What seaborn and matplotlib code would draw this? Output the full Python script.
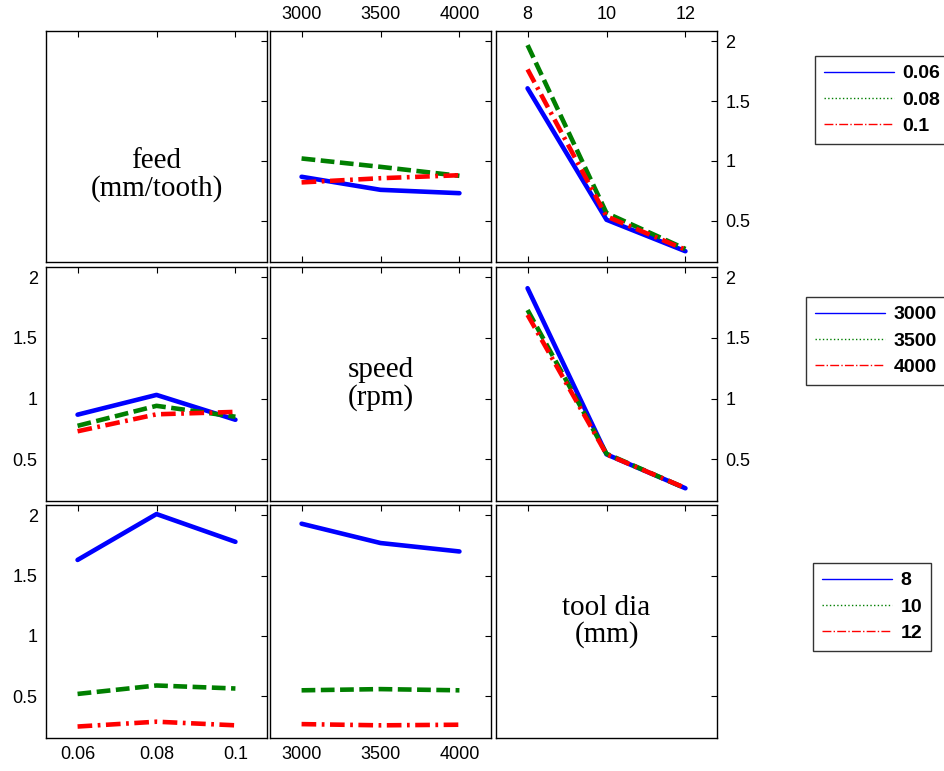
import numpy as np
import pandas as pd
import matplotlib
matplotlib.use("Agg")
import matplotlib.pyplot as plt
from matplotlib.lines import Line2D
import seaborn as sns

sns.set_style("white")
plt.rcParams['font.family'] = ['Liberation Sans', 'DejaVu Sans']
plt.rcParams['text.color'] = 'black'

# ---- data ----
factors = ["feed\n(mm/tooth)", "speed\n(rpm)", "tool dia\n(mm)"]
feed_levels = ["0.06", "0.08", "0.1"]
speed_levels = ["3000", "3500", "4000"]
tool_levels = ["8", "10", "12"]
levels = [feed_levels, speed_levels, tool_levels]

# row: grouping factor; column: x factor; each list = one line per group level
feed_by_speed = [[0.867, 0.758, 0.73], [1.02, 0.95, 0.875], [0.82, 0.855, 0.88]]
feed_by_tool = [[1.606, 0.508, 0.245], [1.967, 0.564, 0.264], [1.764, 0.536, 0.258]]
speed_by_feed = [[0.867, 1.03, 0.825], [0.775, 0.94, 0.85], [0.73, 0.87, 0.89]]
speed_by_tool = [[1.91, 0.54, 0.26], [1.73, 0.545, 0.26], [1.69, 0.54, 0.262]]
tool_by_feed = [[1.63, 2.01, 1.78], [0.52, 0.59, 0.565], [0.25, 0.29, 0.26]]
tool_by_speed = [[1.93, 1.77, 1.70], [0.55, 0.56, 0.55], [0.27, 0.26, 0.265]]

panels = {
    (0, 1): feed_by_speed, (0, 2): feed_by_tool,
    (1, 0): speed_by_feed, (1, 2): speed_by_tool,
    (2, 0): tool_by_feed, (2, 1): tool_by_speed,
}

colors = ["#0000ff", "#007f00", "#ff0000"]
styles = ["-", (0, (3, 1.2)), (0, (3.2, 1.2, 0.6, 1.2))]

W, H = 944, 771
fig = plt.figure(figsize=(W / 100, H / 100), dpi=100)

col_left = [46, 270, 496]
col_w = 221
row_top = [31, 267, 505]
row_h = [231, 234, 233]
diag_y = [0.377, 0.5, 0.5]

yt = [0.5, 1, 1.5, 2]
ytl = ["0.5", "1", "1.5", "2"]

for r in range(3):
    for c in range(3):
        ax = fig.add_axes([col_left[c] / W, 1 - (row_top[r] + row_h[r]) / H,
                           col_w / W, row_h[r] / H])
        ax.set_xlim(-0.4, 2.4)
        ax.set_ylim(0.155, 2.085)
        ax.set_xticks([0, 1, 2])
        ax.set_yticks(yt)
        ax.tick_params(direction="in", length=4, width=0.8, top=True, right=True,
                       labelsize=13, pad=6, colors="black")
        for s in ax.spines.values():
            s.set_color("black")
            s.set_linewidth(1.0)
        if r == c:
            ax.text(0.5, diag_y[r], factors[r], transform=ax.transAxes, ha="center",
                    va="center", fontsize=21, family=["Liberation Serif"],
                    linespacing=1.05, color="black")
        else:
            data = panels[(r, c)]
            for g in range(3):
                df = pd.DataFrame({"x": [0, 1, 2], "y": data[g]})
                sns.lineplot(data=df, x="x", y="y", ax=ax, color=colors[g],
                             linestyle=styles[g], linewidth=3.3, legend=False)
        ax.set_xlabel("")
        ax.set_ylabel("")
        # tick labels
        xl = levels[c]
        if r == 0 and c > 0:
            ax.xaxis.set_ticks_position("both")
            ax.tick_params(labeltop=True, labelbottom=False)
            ax.set_xticklabels(xl)
        elif r == 2 and c < 2:
            ax.set_xticklabels(xl)
        else:
            ax.set_xticklabels([])
            ax.tick_params(labelbottom=False)
        if c == 0 and r > 0:
            ax.set_yticklabels(ytl)
        elif c == 2 and r < 2:
            ax.tick_params(labelright=True, labelleft=False)
            ax.set_yticklabels(ytl)
        else:
            ax.set_yticklabels([])
            ax.tick_params(labelleft=False)

# legends
leg_styles = ["-", ":", "-."]
leg_pos = [(815, 56), (806, 297), (813, 563)]
for r in range(3):
    handles = [Line2D([], [], color=colors[g], linestyle=leg_styles[g], linewidth=1.0)
               for g in range(3)]
    leg = fig.legend(handles, levels[r], loc="upper left",
                     bbox_to_anchor=(leg_pos[r][0] / W, 1 - leg_pos[r][1] / H),
                     frameon=True, fancybox=False, framealpha=1, edgecolor="#333333",
                     prop={"size": 14, "weight": "bold"}, handlelength=3.6,
                     labelspacing=0.45, borderpad=0.45, handletextpad=0.45,
                     borderaxespad=0)
    leg.get_frame().set_linewidth(1.0)

fig.savefig("out.png", dpi=100)
